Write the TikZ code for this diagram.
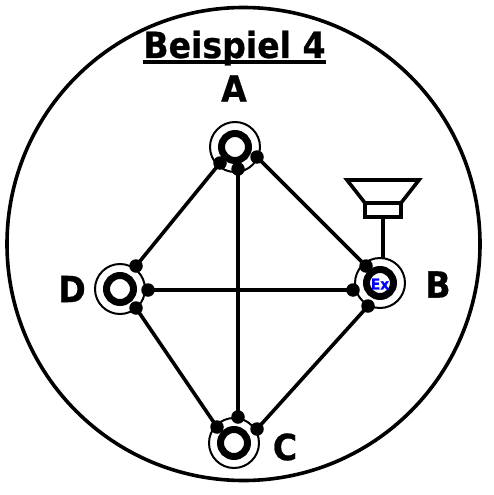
\documentclass[tikz,border=0pt]{standalone}
\usepackage{fontspec}
\setmainfont{DejaVu Sans}
\newfontfamily\lblfont[FakeStretch=0.92,FakeBold=0.7]{DejaVu Sans}
\tikzset{
 px/.style={x=1pt,y=-1pt},
 outerring/.style={circle,draw,line width=2pt,minimum size=50pt,inner sep=0pt},
 innerring/.style={circle,draw,line width=7pt,minimum size=27pt,inner sep=0pt},
 pin/.style={circle,fill,minimum size=13.5pt,inner sep=0pt},
 wire/.style={line width=3.6pt},
 lbl/.style={font=\lblfont\bfseries\fontsize{36}{36}\selectfont,inner sep=0pt},
}
\begin{document}
\begin{tikzpicture}[px]
\useasboundingbox (0,0) rectangle (494,495);
\node[circle,draw,line width=3.6pt,minimum size=473pt,inner sep=0pt] (frame) at (243.5,244) {};
\node[outerring] (ao) at (235,147) {};
\node[outerring] (bo) at (380,283) {};
\node[outerring] (co) at (234,443) {};
\node[outerring] (do) at (120,289) {};
\node[innerring] (ai) at (235,147) {};
\node[innerring] (bi) at (380,283) {};
\node[innerring] (ci) at (234,443) {};
\node[innerring] (di) at (120,289) {};
\node[pin] (a1) at (220,163) {};
\node[pin] (a2) at (238,169) {};
\node[pin] (a3) at (257,157) {};
\node[pin] (b1) at (366,266) {};
\node[pin] (b2) at (353,290) {};
\node[pin] (b3) at (368,306) {};
\node[pin] (c1) at (217,427) {};
\node[pin] (c2) at (238,417) {};
\node[pin] (c3) at (257,429) {};
\node[pin] (d1) at (136,266) {};
\node[pin] (d2) at (148,290) {};
\node[pin] (d3) at (136,308) {};
\draw[wire] (a1.center) -- (d1.center);
\draw[wire] (a3.center) -- (b1.center);
\draw[wire] (a2.center) -- (c2.center);
\draw[wire] (d2.center) -- (b2.center);
\draw[wire] (d3.center) -- (c1.center);
\draw[wire] (b3.center) -- (c3.center);
\node[inner sep=0pt,text=blue,font=\lblfont\bfseries\fontsize{15}{15}\selectfont] (ex) at (380,284) {Ex};
\draw[line width=3.6pt,line join=miter] (347,180) -- (419,180) -- (401,203) -- (365,203) -- cycle;
\node[draw,line width=3.6pt,minimum width=36pt,minimum height=14pt,inner sep=0pt] (spk) at (383,210) {};
\draw[line width=3.6pt] (spk.south) -- (383,258);
\node[lbl,anchor=base] (title) at (234.5,58) {\rlap{\raisebox{-6pt}{\rule{183pt}{3.6pt}}}Beispiel 4};
\node[lbl] (la) at (234,88.5) {A};
\node[lbl] (lb) at (438,284.5) {B};
\node[lbl] (lc) at (285,447) {C};
\node[lbl] (ld) at (72,289) {D};
\end{tikzpicture}
\end{document}
